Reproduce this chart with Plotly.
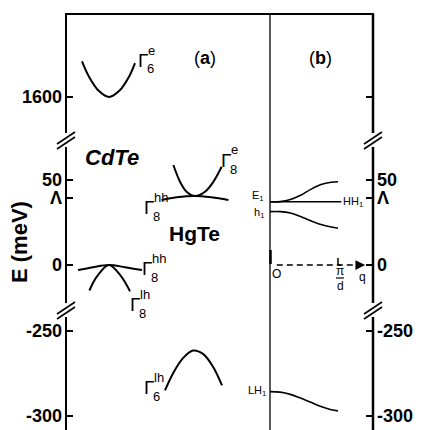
import plotly.graph_objects as go

# ---------------- data (energies in meV) ----------------
# panel (a): bulk band dispersions, k in arbitrary units around each Gamma point
cdte_center = 2.15
hgte_center = 6.45

cdte_g6e_k = [-1.35, -1.0, -0.5, 0, 0.5, 1.0, 1.3]
cdte_g6e_E = [1621, 1612, 1603.5, 1600, 1603.5, 1612, 1620]
cdte_g8hh_k = [-1.55, -0.8, 0, 0.8, 1.65]
cdte_g8hh_E = [-3, -1.3, 0, -1.3, -3]
cdte_g8lh_k = [-0.98, -0.6, 0, 0.58, 1.05]
cdte_g8lh_E = [-15, -6.7, 0, -6.3, -15.5]
hgte_g8e_k = [-1.08, -0.75, -0.42, 0, 0.5, 0.92, 1.33]
hgte_g8e_E = [58.8, 49, 43.1, 40.6, 43.1, 49, 57.8]
hgte_g8hh_k = [-1.67, -0.92, 0, 0.83, 1.67]
hgte_g8hh_E = [38.2, 39.8, 40.6, 39.8, 38.2]
hgte_g6lh_k = [-1.5, -1.1, -0.6, -0.1, 0.4, 0.9, 1.35]
hgte_g6lh_E = [-285, -275, -266, -261.5, -263.5, -271, -282]

# panel (b): superlattice subbands vs q (units of pi/d)
q = [0, 0.15, 0.3, 0.45, 0.6, 0.75, 0.9, 1.0]
E1 = [37.2, 37.3, 38.5, 41, 44.5, 47.3, 48.7, 49]
h1 = [31.4, 31.4, 30.6, 28.5, 26, 23.8, 22.3, 21.6]
LH1 = [-285.7, -286, -287.3, -289.5, -292, -294.5, -296.3, -297]
HH1_q = [0, 1.05]
HH1_E = [37.2, 37.2]
qaxis_q = [0.1, 1.36]
qaxis_E = [0, 0]

LAMBDA = 39.5
tick_E = [1600, 50, LAMBDA, 0, -250, -300]
tick_left = ["1600", "50", "Λ", "0", "-250", "-300"]
tick_right = ["", "50", "Λ", "0", "-250", "-300"]


# broken energy axis: three linear segments stacked
def seg(E):
    if E > 1000:
        return E - 1501.2
    if E < -150:
        return E + 211.2
    return E


def segs(arr):
    return [seg(e) for e in arr]


# ---------------- figure geometry helpers (decorations only) ----------------
W, H = 425, 430
PL, PT, PR, PB = 66, 14, 52, 0
PW, PH = W - PL - PR, H - PT - PB


def xp(px):
    return (px - PL) / PW


def yp(py):
    return (PT + PH - py) / PH


SPLIT = xp(270)
FONT = "Liberation Sans, Arial, Helvetica, sans-serif"
NARROW = "Liberation Sans Narrow, Arial Narrow, Liberation Sans, sans-serif"

fig = go.Figure()


def band(xc, k, E, xaxis="x", w=2):
    fig.add_trace(go.Scatter(
        x=[xc + v for v in k] if xc is not None else k, y=segs(E), mode="lines",
        line=dict(color="black", width=w, shape="spline", smoothing=1.0),
        xaxis=xaxis, yaxis="y", hoverinfo="skip"))


band(cdte_center, cdte_g6e_k, cdte_g6e_E)
band(cdte_center, cdte_g8hh_k, cdte_g8hh_E)
band(cdte_center, cdte_g8lh_k, cdte_g8lh_E)
band(hgte_center, hgte_g8e_k, hgte_g8e_E)
band(hgte_center, hgte_g8hh_k, hgte_g8hh_E)
band(hgte_center, hgte_g6lh_k, hgte_g6lh_E)

band(None, q, E1, "x2", 1.6)
band(None, q, h1, "x2", 1.6)
band(None, q, LH1, "x2", 1.6)
fig.add_trace(go.Scatter(x=HH1_q, y=segs(HH1_E), mode="lines",
                         line=dict(color="black", width=1.6),
                         xaxis="x2", yaxis="y", hoverinfo="skip"))
fig.add_trace(go.Scatter(x=qaxis_q, y=qaxis_E, mode="lines",
                         line=dict(color="black", width=1.5, dash="6px,4px"),
                         xaxis="x2", yaxis="y", hoverinfo="skip"))

shapes = []


def line(x0, y0, x1, y1, w=2):
    shapes.append(dict(type="line", xref="paper", yref="paper",
                       x0=xp(x0), y0=yp(y0), x1=xp(x1), y1=yp(y1),
                       line=dict(color="black", width=w)))


# top border
line(65, 14, 374, 14, 2)
# left axis (with breaks)
line(66, 14, 66, 133, 2)
line(66, 147, 66, 303, 2)
line(66, 317, 66, 430, 2)
# right axis (with breaks)
line(373, 14, 373, 133, 2.5)
line(373, 147, 373, 303, 2.5)
line(373, 317, 373, 430, 2.5)
# middle separator
line(270, 14, 270, 430, 1.3)
# break marks
for xc in (66, 373):
    for yc in (140, 310):
        line(xc - 9, yc + 4, xc + 9, yc - 8, 1.6)
        line(xc - 9, yc + 9, xc + 9, yc - 3, 1.6)
# q-axis ticks
line(270.5, 250, 270.5, 264, 2.5)
line(338, 258, 338, 265, 1.5)
line(338, 265, 341, 265, 1.5)
# pi/d fraction bar
line(336, 278, 344, 278, 1.2)

ann = []


def text(px, py, s, size=12, family=FONT, xanchor="center", yanchor="middle",
         angle=0):
    ann.append(dict(xref="paper", yref="paper", x=xp(px), y=yp(py), text=s,
                    showarrow=False, xanchor=xanchor, yanchor=yanchor,
                    textangle=angle, font=dict(size=size, family=family,
                                               color="black")))


def gamma(gx, gy, sub, sup):
    text(gx, gy, "Γ", 19, NARROW)
    text(gx + 2, gy + 9, sub, 13, FONT, xanchor="left")
    text(gx + 3, gy - 10, sup, 13, FONT, xanchor="left")


gamma(143, 60, "6", "e")
gamma(226, 160, "8", "e")
gamma(149, 207, "8", "hh")
gamma(147, 268, "8", "hh")
gamma(135, 304, "8", "lh")
gamma(149, 387, "6", "lh")

text(205, 58, "(<b>a</b>)", 18)
text(320, 58, "(<b>b</b>)", 18)
text(112, 157, "<b><i>CdTe</i></b>", 22)
text(194, 233, "<b>HgTe</b>", 21)
text(19, 242, "<b>E (meV)</b>", 22, angle=-90)

text(258, 196, "E<sub>1</sub>", 11)
text(259, 213, "h<sub>1</sub>", 11)
text(257, 391, "LH<sub>1</sub>", 11)
text(341, 202, "HH<sub>1</sub>", 11, xanchor="left")
text(276, 274, "O", 12)
text(340, 271, "π", 12)
text(340, 286, "d", 12)
text(362, 277, "q", 12)

# arrowhead of q axis
ann.append(dict(xref="x2", yref="y", axref="x2", ayref="y",
                x=1.40, y=0, ax=1.30, ay=0, text="", showarrow=True,
                arrowhead=2, arrowsize=1.3, arrowwidth=1.5, arrowcolor="black"))

yrange = [-97.06, 147.65]
tv = segs(tick_E)
axis_common = dict(range=yrange, tickvals=tv, ticks="inside", ticklen=7,
                   tickwidth=2, tickcolor="black", showgrid=False,
                   zeroline=False, showline=False, fixedrange=True,
                   tickfont=dict(size=18, family=FONT, color="black"))

fig.update_layout(
    width=W, height=H, margin=dict(l=PL, r=PR, t=PT, b=PB, pad=0),
    paper_bgcolor="white", plot_bgcolor="white", showlegend=False,
    xaxis=dict(domain=[0, SPLIT], range=[0, 10.2], visible=False,
               fixedrange=True),
    xaxis2=dict(domain=[SPLIT, 1], range=[0, 1.515], visible=False,
                anchor="y", fixedrange=True),
    yaxis=dict(anchor="x", side="left",
               ticktext=["<b>%s</b>" % t for t in tick_left],
               ticklabelstandoff=3, **axis_common),
    yaxis2=dict(anchor="x2", side="right", overlaying="y",
                ticktext=["<b>%s</b>" % t for t in tick_right],
                ticklabelstandoff=3, **axis_common),
    shapes=shapes, annotations=ann,
)
# dummy trace so yaxis2 renders
fig.add_trace(go.Scatter(x=[None], y=[None], xaxis="x2", yaxis="y2",
                         hoverinfo="skip"))

fig.write_html("out.html")
